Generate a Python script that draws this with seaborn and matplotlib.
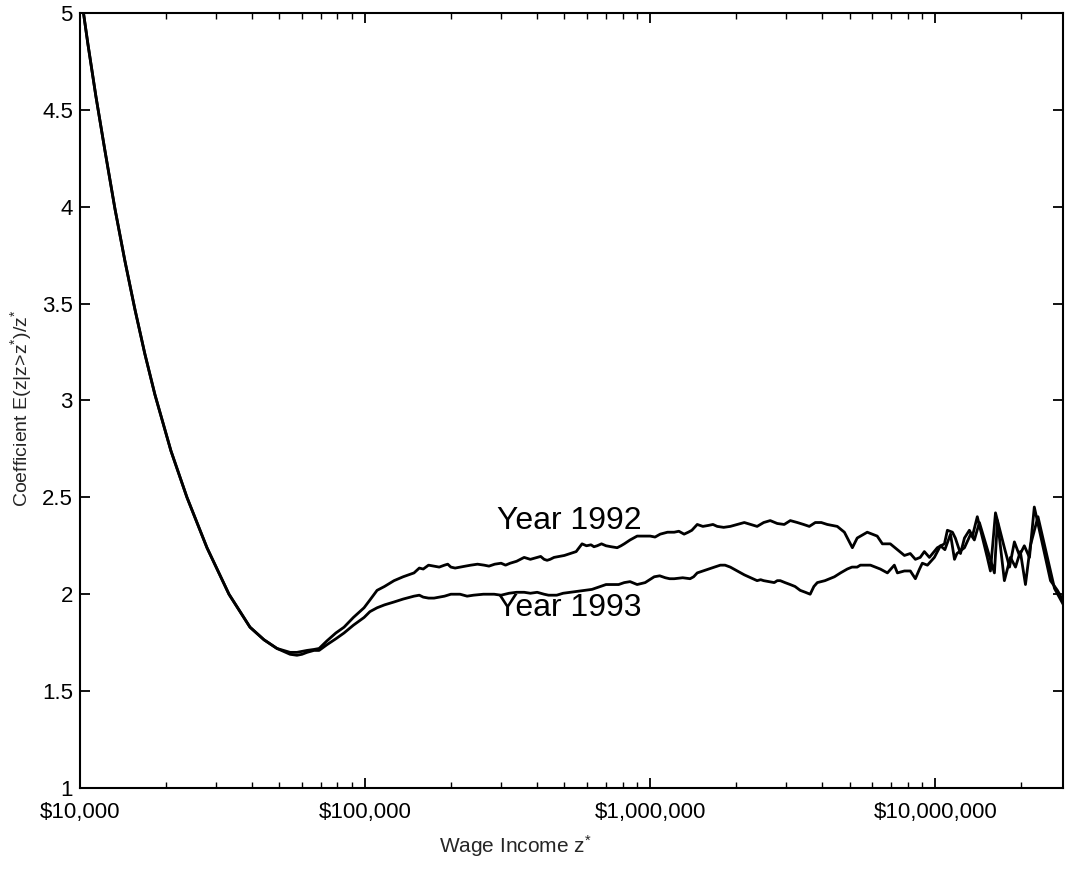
import numpy as np
import pandas as pd
import matplotlib
matplotlib.use("Agg")
import matplotlib.pyplot as plt
from matplotlib.ticker import FixedLocator, LogLocator, NullFormatter
import seaborn as sns

# ---------------- data ----------------
shared_income = [10000, 10668, 11379, 12240, 13270, 14385, 15597, 16900, 18330,
                 20860, 23739, 27906, 33332, 39494, 44217, 49124]
shared_coef = [5.13, 4.84, 4.57, 4.29, 3.99, 3.72, 3.47, 3.24, 3.03,
               2.74, 2.50, 2.24, 2.00, 1.83, 1.765, 1.72]

income_1992 = [54600, 57700, 60100, 62600, 66200, 69000, 73600, 79000, 84400, 91000,
               99200, 104000, 110200, 117000, 126400, 136000, 148500, 160000, 174600, 190000,
               200000, 215400, 235000, 261600, 285000, 322800, 340000, 361400, 401500, 424600,
               445700, 480000, 523800, 576800, 620000, 651600, 700000, 766000, 811000, 900000,
               1000000, 1084000, 1214000, 1315000, 1400000, 1462000, 1600000, 1718000, 1909000, 2138000,
               2371000, 2636000, 2951000, 3281000, 3614000, 3793000, 4178000, 4529000, 4797000, 5117000,
               5320000, 5770000, 6253000, 6520000, 6950000, 7360000, 7790000, 8166000, 8510000, 8850000,
               9150000, 9530000, 10160000, 10760000, 11020000, 11480000, 11750000, 12250000, 12650000, 13160000,
               13490000, 14030000, 15210000, 15600000, 16250000, 17460000, 18200000, 18930000, 19720000, 20510000,
               21380000, 22230000, 25340000, 26790000, 28500000]
coef_1992 = [1.70, 1.70, 1.705, 1.71, 1.715, 1.72, 1.76, 1.80, 1.83, 1.88,
             1.93, 1.97, 2.02, 2.04, 2.07, 2.09, 2.11, 2.13, 2.145, 2.15,
             2.14, 2.14, 2.15, 2.15, 2.155, 2.16, 2.17, 2.19, 2.19, 2.18,
             2.18, 2.195, 2.21, 2.26, 2.255, 2.25, 2.25, 2.24, 2.26, 2.30,
             2.30, 2.31, 2.32, 2.31, 2.33, 2.36, 2.355, 2.35, 2.35, 2.37,
             2.35, 2.38, 2.36, 2.37, 2.35, 2.37, 2.36, 2.35, 2.32, 2.24,
             2.29, 2.32, 2.30, 2.26, 2.26, 2.23, 2.20, 2.21, 2.18, 2.19,
             2.22, 2.19, 2.24, 2.26, 2.33, 2.32, 2.29, 2.21, 2.29, 2.33,
             2.30, 2.40, 2.19, 2.12, 2.42, 2.24, 2.14, 2.27, 2.20, 2.25,
             2.19, 2.45, 2.07, 2.02, 1.95]
# finer wiggles of the 1992 plateau
income_1992_detail = [155000, 167000, 182000, 195000, 207000, 225000, 248000, 272000, 300000, 311000,
                      380000, 413000, 435000, 460000, 500000, 550000, 598000, 635000, 675000, 730000,
                      790000, 850000, 950000, 1040000, 1150000, 1260000, 1360000, 1530000, 1660000, 1810000,
                      2020000, 2250000, 2500000, 2790000, 3100000, 3450000, 3700000, 3980000, 4350000]
coef_1992_detail = [2.135, 2.15, 2.14, 2.155, 2.135, 2.145, 2.155, 2.145, 2.16, 2.15,
                    2.18, 2.195, 2.175, 2.19, 2.20, 2.22, 2.25, 2.245, 2.26, 2.245,
                    2.25, 2.28, 2.30, 2.295, 2.32, 2.325, 2.32, 2.35, 2.36, 2.345,
                    2.36, 2.36, 2.37, 2.365, 2.38, 2.36, 2.36, 2.37, 2.355]

income_1993 = [54600, 57700, 60100, 62600, 66200, 69000, 73600, 79000, 84400, 91000,
               99200, 104000, 110200, 117000, 126400, 136000, 148500, 160000, 174600, 190000,
               215400, 240000, 283600, 320000, 361400, 401500, 424600, 470000, 523800, 590000,
               668000, 740000, 811000, 900000, 1033000, 1130000, 1214000, 1380000, 1462000, 1600000,
               1762000, 1909000, 2138000, 2371000, 2500000, 2723000, 2858000, 3097000, 3357000, 3639000,
               3855000, 4426000, 4910000, 5320000, 5458000, 5920000, 6410000, 6790000, 7180000, 7360000,
               7790000, 8170000, 8510000, 8800000, 9000000, 9380000, 9920000, 10420000, 10800000, 11300000,
               11670000, 11900000, 12650000, 13300000, 13700000, 14270000, 16110000, 16510000, 17460000, 18330000,
               19100000, 19860000, 20700000, 21530000, 22900000, 26170000, 28500000]
coef_1993 = [1.69, 1.685, 1.69, 1.70, 1.71, 1.71, 1.74, 1.77, 1.80, 1.84,
             1.88, 1.91, 1.93, 1.945, 1.96, 1.975, 1.99, 1.985, 1.98, 1.99,
             2.00, 1.995, 2.00, 2.005, 2.01, 2.01, 2.00, 1.995, 2.01, 2.02,
             2.04, 2.05, 2.06, 2.05, 2.09, 2.085, 2.08, 2.08, 2.11, 2.13,
             2.15, 2.14, 2.10, 2.07, 2.07, 2.06, 2.07, 2.05, 2.02, 2.00,
             2.06, 2.09, 2.13, 2.14, 2.15, 2.15, 2.13, 2.11, 2.15, 2.11,
             2.12, 2.12, 2.08, 2.13, 2.16, 2.15, 2.19, 2.25, 2.23, 2.31,
             2.18, 2.21, 2.24, 2.31, 2.28, 2.37, 2.11, 2.38, 2.07, 2.19,
             2.14, 2.22, 2.05, 2.25, 2.40, 2.03, 1.93]
# finer wiggles of the 1993 plateau
income_1993_detail = [155000, 167000, 182000, 200000, 228000, 260000, 300000, 340000, 380000, 440000,
                      495000, 555000, 625000, 700000, 775000, 850000, 960000, 1080000, 1170000, 1300000,
                      1420000, 1530000, 1680000, 1830000, 2020000, 2250000, 2440000, 2610000, 2790000, 2970000,
                      3220000, 3500000, 3750000, 4100000, 4650000, 5100000]
coef_1993_detail = [1.995, 1.98, 1.985, 2.00, 1.99, 2.00, 1.995, 2.01, 2.005, 1.995,
                    2.005, 2.015, 2.025, 2.05, 2.05, 2.065, 2.06, 2.095, 2.08, 2.085,
                    2.09, 2.12, 2.14, 2.15, 2.12, 2.085, 2.075, 2.065, 2.07, 2.06,
                    2.04, 2.01, 2.04, 2.07, 2.11, 2.14]

series_labels = ["Year 1992", "Year 1993"]
label_income = [290000, 290000]
label_coef = [2.38, 1.93]

x_ticks = [1e4, 1e5, 1e6, 1e7]
x_ticklabels = ["$10,000", "$100,000", "$1,000,000", "$10,000,000"]
y_ticks = [1, 1.5, 2, 2.5, 3, 3.5, 4, 4.5, 5]
y_ticklabels = ["1", "1.5", "2", "2.5", "3", "3.5", "4", "4.5", "5"]

# ---------------- build frame ----------------
df = pd.concat([
    pd.DataFrame({"income": shared_income + income_1992 + income_1992_detail,
                  "coef": shared_coef + coef_1992 + coef_1992_detail, "year": "1992"}),
    pd.DataFrame({"income": shared_income + income_1993 + income_1993_detail,
                  "coef": shared_coef + coef_1993 + coef_1993_detail, "year": "1993"}),
], ignore_index=True)
df = df.sort_values(["year", "income"]).reset_index(drop=True)

# ---------------- style ----------------
sns.set_style("ticks")
plt.rcParams["font.family"] = ["Liberation Sans", "DejaVu Sans"]
plt.rcParams["mathtext.fontset"] = "custom"
plt.rcParams["mathtext.rm"] = "Liberation Sans"
plt.rcParams["mathtext.it"] = "Liberation Sans:italic"
plt.rcParams["mathtext.bf"] = "Liberation Sans:bold"

fig = plt.figure(figsize=(10.65, 8.69), dpi=100)
ax = fig.add_axes([0.075, 0.0932, 0.923, 0.892])

sns.lineplot(data=df, x="income", y="coef", hue="year", units="year",
             estimator=None, palette=["black", "black"], linewidth=2.0,
             legend=False, ax=ax, sort=False)

ax.set_xscale("log")
ax.set_xlim(1e4, 2.8e7)
ax.set_ylim(1, 5)

ax.xaxis.set_major_locator(FixedLocator(x_ticks))
ax.set_xticklabels(x_ticklabels)
ax.xaxis.set_minor_locator(LogLocator(base=10, subs=np.arange(2, 10)))
ax.xaxis.set_minor_formatter(NullFormatter())
ax.set_yticks(y_ticks)
ax.set_yticklabels(y_ticklabels)

ax.tick_params(axis="both", which="both", direction="in", top=True, right=True,
               colors="black", labelsize=16)
ax.tick_params(axis="both", which="major", length=7, width=1.3)
ax.tick_params(axis="y", which="major", pad=5)
ax.tick_params(axis="x", which="major", pad=10)
ax.tick_params(axis="x", which="minor", length=4, width=1.0)
ax.tick_params(axis="y", which="minor", left=False, right=False)

for sp in ax.spines.values():
    sp.set_visible(True)
    sp.set_linewidth(1.5)
    sp.set_color("black")

ax.set_xlabel(r"Wage Income z$^{*}$", fontsize=15)
ax.xaxis.set_label_coords(0.4425, -0.058)
ax.set_ylabel(r"Coefficient E(z|z>z$^{*}$)/z$^{*}$", fontsize=14)
ax.yaxis.set_label_coords(-0.047, 0.49)

for lab, xi, yi in zip(series_labels, label_income, label_coef):
    ax.text(xi, yi, lab, fontsize=23, ha="left", va="center", color="black")

fig.savefig("out.png", dpi=100, facecolor="white")
